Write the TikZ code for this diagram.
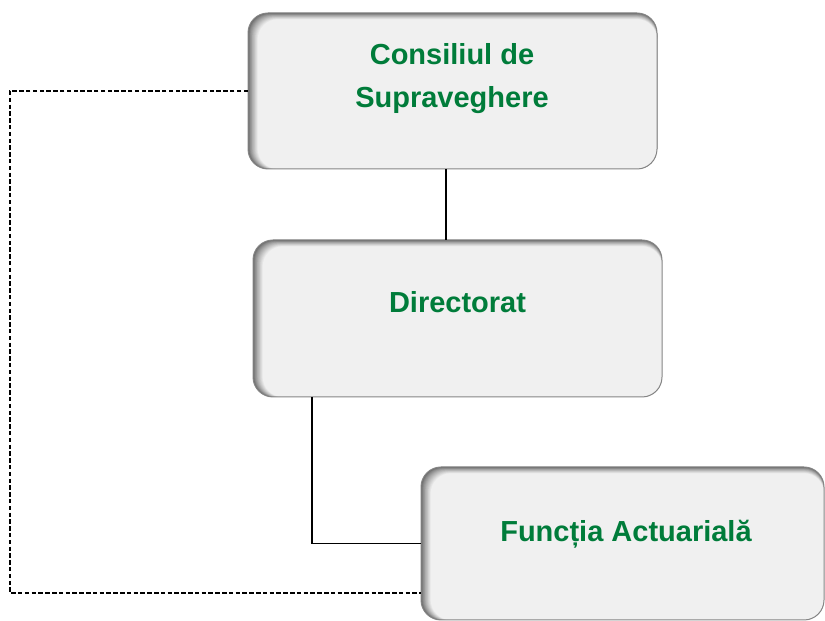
\documentclass[tikz,border=0pt]{standalone}
\usepackage{fontspec}
\setmainfont{Liberation Sans}
\usetikzlibrary{calc}
\definecolor{boxfill}{HTML}{F0F0F0}
\definecolor{shadowgray}{HTML}{646464}
\definecolor{edgegray}{HTML}{858585}
\definecolor{txtgreen}{RGB}{0,124,58}
\tikzset{
  shbox/.style={rounded corners=20pt, draw=edgegray, line width=1pt, inner sep=0pt, outer sep=0pt,
    fill=boxfill,
    path picture={
      \foreach \i in {0,...,14}{
        \pgfmathsetmacro\p{100*(\i/14)^0.8}
        \fill[fill=boxfill!\p!shadowgray, rounded corners=20pt]
          ([xshift=\i*0.7pt]path picture bounding box.south west) rectangle
          ([yshift=-\i*0.45pt]path picture bounding box.north east);
      }
    }},
  lbl/.style={anchor=base, inner sep=0pt, text=txtgreen, font=\fontsize{29}{34}\selectfont\bfseries},
  solidline/.style={draw=black, line width=1.7pt},
  dashline/.style={draw=black, line width=1.4pt, dash pattern=on 4.5pt off 2.3pt}
}
\begin{document}
\begin{tikzpicture}[x=1pt,y=1pt]
\useasboundingbox (0,0) rectangle (825,621);
% boxes
\node[shbox, minimum width=409pt, minimum height=156pt] (b1) at (452.5,530) {};
\node[shbox, minimum width=409pt, minimum height=157pt] (b2) at (457.5,302.5) {};
\node[shbox, minimum width=403pt, minimum height=153pt] (b3) at (622.5,77.5) {};
% labels
\node[lbl] (t1a) at (452,556) {Consiliul de};
\node[lbl] (t1b) at (452,513) {Supraveghere};
\node[lbl] (t2) at (457.5,308) {Directorat};
\node[lbl] (t3) at (626,79) {Funcția Actuarială};
% helper coordinates
\coordinate (x1) at (446,0);
\coordinate (x2) at (312,0);
\coordinate (dl) at (10,0);
\coordinate (db) at (0,28);
% connectors
\draw[solidline] (b1.south -| x1) -- (b2.north -| x1);
\draw[solidline] (b2.south -| x2) |- (b3.west);
\draw[dashline] (b1.west) -- (b1.west -| dl) -- (dl |- db) -- (b3.west |- db);
\end{tikzpicture}
\end{document}
